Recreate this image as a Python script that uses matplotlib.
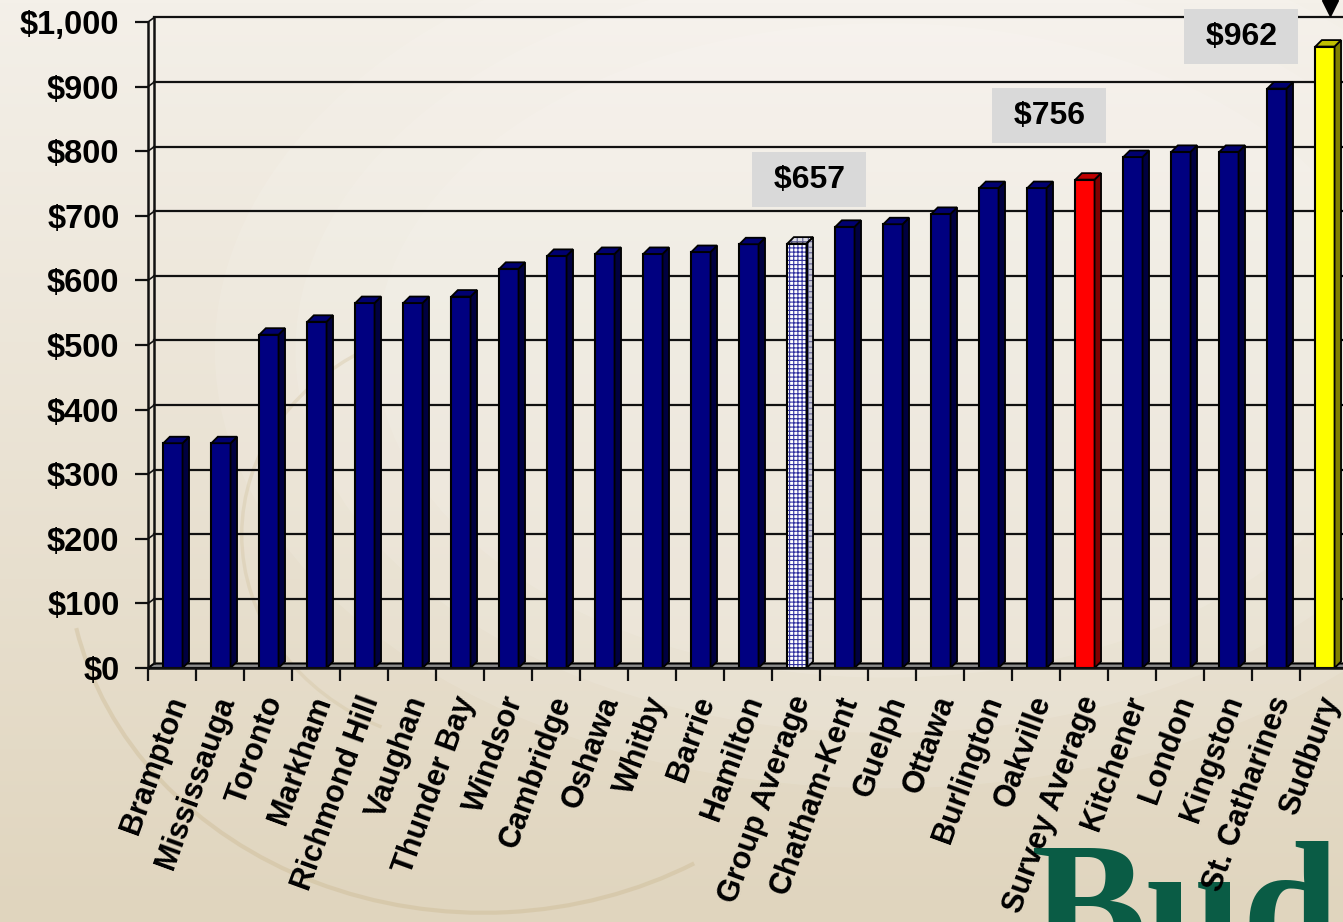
import matplotlib.pyplot as plt
import matplotlib.transforms as mtransforms
import numpy as np
from matplotlib.patches import Polygon, Arc, Ellipse

cities = ['Brampton', 'Mississauga', 'Toronto', 'Markham', 'Richmond Hill', 'Vaughan',
          'Thunder Bay', 'Windsor', 'Cambridge', 'Oshawa', 'Whitby', 'Barrie', 'Hamilton',
          'Group Average', 'Chatham-Kent', 'Guelph', 'Ottawa', 'Burlington', 'Oakville',
          'Survey Average', 'Kitchener', 'London', 'Kingston', 'St. Catharines', 'Sudbury']
costs = [348, 348, 516, 536, 565, 565, 575, 618, 638, 641, 641, 644, 656,
         657, 683, 687, 703, 743, 743, 756, 791, 799, 799, 897, 962]
y_ticks = [0, 100, 200, 300, 400, 500, 600, 700, 800, 900, 1000]
y_labels = ['$0', '$100', '$200', '$300', '$400', '$500', '$600', '$700', '$800', '$900', '$1,000']
callouts = ['Group Average', 'Survey Average', 'Sudbury']
callout_text = ['$657', '$756', '$962']

NAVY = '#000080'
front = {'Survey Average': ('#ff0000', '#800000', '#c00000'),
         'Sudbury': ('#ffff00', '#808000', '#c0c000')}

plt.rcParams['font.family'] = ['Liberation Sans', 'DejaVu Sans']
plt.rcParams['font.weight'] = 'bold'
plt.rcParams['hatch.linewidth'] = 0.8

W, H = 1343, 922
fig = plt.figure(figsize=(W / 100, H / 100), dpi=100)

# background: beige gradient + faint swirl
bg = fig.add_axes([0, 0, 1, 1], zorder=0)
top_c = np.array([244, 240, 233]) / 255
bot_c = np.array([224, 213, 190]) / 255
t = np.linspace(0, 1, 256)[:, None]
grad = top_c[None, :] * (1 - t) + bot_c[None, :] * t
bg.imshow(grad[:, None, :], extent=[0, 1, 0, 1], aspect='auto')
for k, a in enumerate([0.10, 0.10, 0.10]):
    bg.add_patch(Ellipse((0.66, 0.62), 1.0 - 0.12 * k, 0.95 - 0.12 * k,
                         fc='white', ec='none', alpha=a))
bg.add_patch(Arc((0.36, 0.40), 0.62, 0.78, theta1=195, theta2=295, color='#c8b48a', lw=3, alpha=0.35))
bg.add_patch(Arc((0.36, 0.42), 0.36, 0.46, theta1=110, theta2=250, color='#d2c29e', lw=2.5, alpha=0.35))
bg.text(1030 / W, -0.043, 'Bud', fontsize=125, family='Liberation Serif', weight='bold',
        color='#0a5c45', va='baseline', ha='left')
bg.set_xlim(0, 1)
bg.set_ylim(0, 1)
bg.axis('off')

ax = fig.add_axes([148 / W, (H - 668) / H, 1200 / W, 646 / H], zorder=1)
ax.patch.set_alpha(0)
ax.set_xlim(0, len(cities))
ax.set_ylim(0, 1000)
for s in ax.spines.values():
    s.set_visible(False)

n = len(cities)
wx, wy = 0.13, 7      # back wall offset
bx, by = 0.135, 10    # bar depth
lc = '#111111'

# floor and walls
ax.add_patch(Polygon([(0, 0), (n, 0), (n + wx, wy), (wx, wy)], closed=True,
                     fc='#8c8c8c', ec='black', lw=1.5, clip_on=False, zorder=1))
ax.plot([0, 0], [0, 1000], color=lc, lw=1.8, clip_on=False, zorder=2)
ax.plot([wx, wx], [wy, 1000 + wy], color=lc, lw=1.8, clip_on=False, zorder=2)
for v in y_ticks[1:]:
    ax.plot([wx, n + wx], [v + wy, v + wy], color=lc, lw=1.6, clip_on=False, zorder=1.5)
    ax.plot([0, wx], [v, v + wy], color=lc, lw=1.2, clip_on=False, zorder=2)

# bars
x0 = np.arange(n) + 0.32
bw = 0.40
for i, (name, v) in enumerate(zip(cities, costs)):
    xl = x0[i]
    xr = xl + bw
    side = [(xr, 0), (xr + bx, by), (xr + bx, v + by), (xr, v)]
    topf = [(xl, v), (xr, v), (xr + bx, v + by), (xl + bx, v + by)]
    if name == 'Group Average':
        ax.bar(xl, v, width=bw, align='edge', color='white', edgecolor='#3030a0',
               hatch='++++', lw=0, zorder=3)
        ax.bar(xl, v, width=bw, align='edge', color='none', edgecolor='black', lw=1.5, zorder=3.1)
        for poly, fc in ((side, '#c8c8d4'), (topf, '#dcdce4')):
            ax.add_patch(Polygon(poly, closed=True, fc=fc, ec='#606090', hatch='+++',
                                 lw=0, zorder=3))
            ax.add_patch(Polygon(poly, closed=True, fc='none', ec='black', lw=1.3, zorder=3.1))
        continue
    fc, sc, tc = front.get(name, (NAVY, '#000040', '#000070'))
    ax.bar(xl, v, width=bw, align='edge', color=fc, edgecolor='black', lw=1.5, zorder=3)
    ax.add_patch(Polygon(side, closed=True, fc=sc, ec='black', lw=1.3, zorder=3))
    ax.add_patch(Polygon(topf, closed=True, fc=tc, ec='black', lw=1.3, zorder=3))

ax.plot([0, n], [0, 0], color=lc, lw=1.8, clip_on=False, zorder=4)

# axes ticks
ax.set_yticks(y_ticks, y_labels)
ax.tick_params(axis='y', direction='out', length=9.5, width=1.6, color=lc,
               labelsize=23.5, pad=11)
ax.set_xticks(np.arange(n + 1), [''] * (n + 1))
ax.tick_params(axis='x', direction='out', length=9.5, width=1.6, color=lc)
for lab in ax.get_yticklabels():
    lab.set_fontweight('bold')

off = mtransforms.ScaledTranslation(0.07, -0.29, fig.dpi_scale_trans)
for i, name in enumerate(cities):
    ax.text(i + 0.5, 0, name, transform=ax.get_xaxis_transform() + off,
            rotation=70, rotation_mode='anchor', ha='right', va='center',
            fontsize=22, fontweight='bold', color='black', zorder=5)

# callout boxes
offsets = [(12, 64), (-36, 64), (-84, 10)]
for name, txt, (ox, oy) in zip(callouts, callout_text, offsets):
    i = cities.index(name)
    ax.annotate(' ' + txt + ' ', xy=(x0[i] + bw / 2, costs[i]), xytext=(ox, oy),
                textcoords='offset pixels', ha='center', va='center',
                fontsize=23, fontweight='bold', annotation_clip=False, zorder=6,
                bbox=dict(boxstyle='square,pad=0.4', fc='#d9d9d9', ec='none'))

# marker above Sudbury
mark_tr = mtransforms.blended_transform_factory(ax.transData, fig.transFigure)
ax.plot([cities.index('Sudbury') + 0.625], [1 - 8 / H], marker='v', color='black',
        markersize=11, transform=mark_tr, clip_on=False, zorder=6)

fig.savefig('out.png', dpi=100)
